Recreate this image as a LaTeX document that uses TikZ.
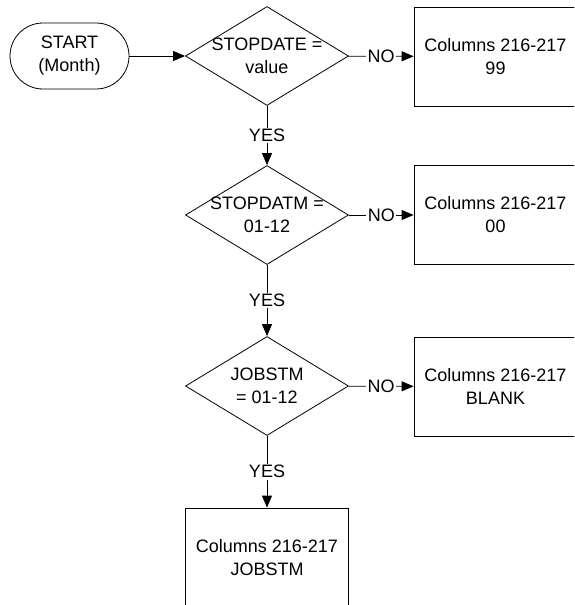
\documentclass[tikz,border=0pt]{standalone}
\usepackage{fontspec}
\setmainfont{Liberation Sans}
\usetikzlibrary{positioning, arrows.meta, shapes.geometric}

\begin{document}
\begin{tikzpicture}[
  x=1pt, y=1pt,
  every node/.style={font=\fontsize{18}{23}\selectfont},
  flow/.style={-{Triangle[length=12pt, width=10pt]}, line width=0.8pt},
  term/.style={rectangle, rounded corners=33pt, draw, line width=0.8pt, minimum width=119pt, minimum height=66pt, align=center},
  decision/.style={diamond, draw, line width=0.8pt, minimum width=163pt, minimum height=99pt, inner sep=0pt},
  outbox/.style={rectangle, draw, line width=0.8pt, minimum width=163pt, minimum height=99pt, align=center},
  tag/.style={midway, fill=white, inner sep=1.5pt}
]
\useasboundingbox (0,0) rectangle (574,-605);
\clip (0,0) rectangle (574,-605);

% Start
\node[term] (start) at (69.5,-56) {START\\(Month)};

% Decisions
\node[decision, label={[align=center]center:{STOPDATE =\\value}}] (stopdate) at (267,-56) {};
\node[decision, label={[align=center]center:{STOPDATM =\\01-12}}] (stopdatm) at (267,-215) {};
\node[decision, label={[align=center]center:{JOBSTM\\= 01-12}}] (jobstm) at (267,-386) {};

% Results
\node[outbox] (col99) at (495.5,-56.5) {Columns 216-217\\99};
\node[outbox] (col00) at (495.5,-215) {Columns 216-217\\00};
\node[outbox] (colblank) at (495.5,-386.5) {Columns 216-217\\BLANK};
\node[outbox] (coljob) at (267,-557.5) {Columns 216-217\\JOBSTM};

% Connectors
\draw[flow] (start) -- (stopdate);
\draw[flow] (stopdate) -- (col99) node[tag] {NO};
\draw[flow] (stopdate) -- (stopdatm) node[tag] {YES};
\draw[flow] (stopdatm) -- (col00) node[tag] {NO};
\draw[flow] (stopdatm) -- (jobstm) node[tag] {YES};
\draw[flow] (jobstm) -- (colblank) node[tag] {NO};
\draw[flow] (jobstm) -- (coljob) node[tag] {YES};

\end{tikzpicture}
\end{document}
